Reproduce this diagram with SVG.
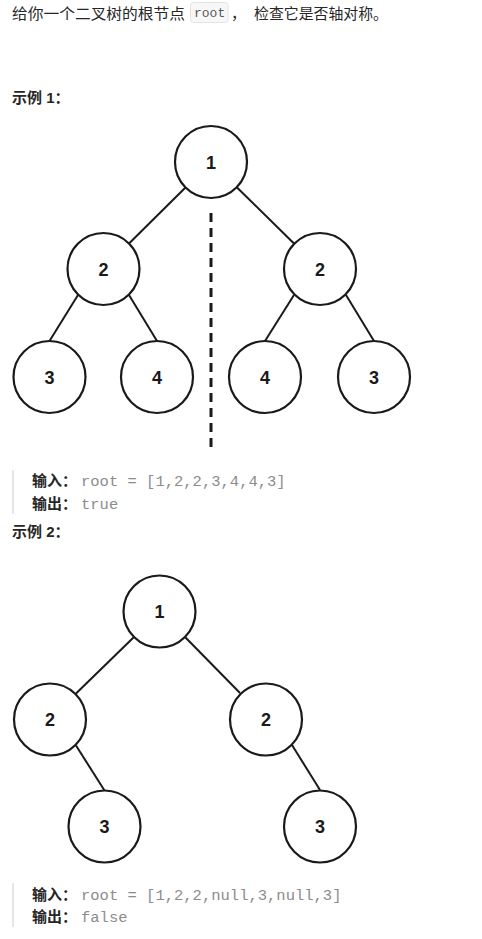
<svg xmlns="http://www.w3.org/2000/svg" width="482" height="939" viewBox="0 0 482 939">
<style>
.txt{font-family:"Liberation Sans","Noto Sans CJK SC",sans-serif;font-size:15px;fill:#262626}
.b{font-weight:bold}
.mono{font-family:"Liberation Mono","DejaVu Sans Mono",monospace;font-size:15.5px;fill:#8c8c8c}
.node circle{fill:#fff;stroke:#1a1a1a;stroke-width:2.2}
.node text{font-family:"Liberation Sans",Arial,sans-serif;font-weight:bold;font-size:18px;fill:#1a1a1a;text-anchor:middle}
.edge{stroke:#1a1a1a;stroke-width:2;fill:none}
.quote{stroke:#e6e6e6;stroke-width:2}
</style>
<rect width="482" height="939" fill="#fff"/>
<text class="txt" x="12" y="19" textLength="173" lengthAdjust="spacingAndGlyphs">给你一个二叉树的根节点</text>
<rect x="190.5" y="2.5" width="37.5" height="20" rx="3" fill="#f7f7f7" stroke="#e3e3e3"/>
<text class="mono" x="194" y="17" style="font-size:13px;fill:#595959">root</text>
<text class="txt" x="231" y="19">，</text>
<text class="txt" x="254" y="19" textLength="134" lengthAdjust="spacingAndGlyphs">检查它是否轴对称。</text>

<text class="txt b" x="12" y="103">示例 1：</text>

<g id="connectors1">
<line class="edge" x1="185.5" y1="187.5" x2="129" y2="243.5"/>
<line class="edge" x1="237" y1="187.5" x2="294" y2="243.5"/>
<line class="edge" x1="78" y1="295" x2="49.5" y2="341"/>
<line class="edge" x1="129" y1="295" x2="157" y2="341"/>
<line class="edge" x1="294" y1="295" x2="265" y2="341"/>
<line class="edge" x1="346" y1="295" x2="374" y2="341"/>
<line x1="211" y1="213" x2="211" y2="448" stroke="#1a1a1a" stroke-width="3" stroke-dasharray="9 6"/>
</g>
<g id="e1n1" class="node"><circle cx="211" cy="162" r="36"/><text x="211" y="168.5">1</text></g>
<g id="e1n2l" class="node"><circle cx="103.5" cy="269" r="36"/><text x="103.5" y="275.5">2</text></g>
<g id="e1n2r" class="node"><circle cx="320" cy="269" r="36"/><text x="320" y="275.5">2</text></g>
<g id="e1n3l" class="node"><circle cx="49.5" cy="377" r="36"/><text x="49.5" y="383.5">3</text></g>
<g id="e1n4l" class="node"><circle cx="157" cy="377" r="36"/><text x="157" y="383.5">4</text></g>
<g id="e1n4r" class="node"><circle cx="265" cy="377" r="36"/><text x="265" y="383.5">4</text></g>
<g id="e1n3r" class="node"><circle cx="374" cy="377" r="36"/><text x="374" y="383.5">3</text></g>

<line class="quote" x1="13" y1="470" x2="13" y2="514"/>
<text class="txt b" x="32" y="486">输入：</text>
<text class="mono" x="81" y="486">root = [1,2,2,3,4,4,3]</text>
<text class="txt b" x="32" y="509">输出：</text>
<text class="mono" x="81" y="509">true</text>

<text class="txt b" x="12" y="537">示例 2：</text>

<g id="connectors2">
<line class="edge" x1="133.5" y1="637.5" x2="76" y2="693.5"/>
<line class="edge" x1="185.5" y1="637.5" x2="240" y2="693"/>
<line class="edge" x1="76" y1="745.5" x2="104.5" y2="790.5"/>
<line class="edge" x1="292" y1="745" x2="320" y2="790"/>
</g>
<g id="e2n1" class="node"><circle cx="159.5" cy="611.5" r="36"/><text x="159.5" y="618">1</text></g>
<g id="e2n2l" class="node"><circle cx="50" cy="719.5" r="36"/><text x="50" y="726">2</text></g>
<g id="e2n2r" class="node"><circle cx="266" cy="719.5" r="36"/><text x="266" y="726">2</text></g>
<g id="e2n3l" class="node"><circle cx="104.5" cy="826.5" r="36"/><text x="104.5" y="833">3</text></g>
<g id="e2n3r" class="node"><circle cx="320" cy="826.5" r="36"/><text x="320" y="833">3</text></g>

<line class="quote" x1="13" y1="883" x2="13" y2="927"/>
<text class="txt b" x="32" y="900">输入：</text>
<text class="mono" x="81" y="900">root = [1,2,2,null,3,null,3]</text>
<text class="txt b" x="32" y="922">输出：</text>
<text class="mono" x="81" y="922">false</text>
</svg>
